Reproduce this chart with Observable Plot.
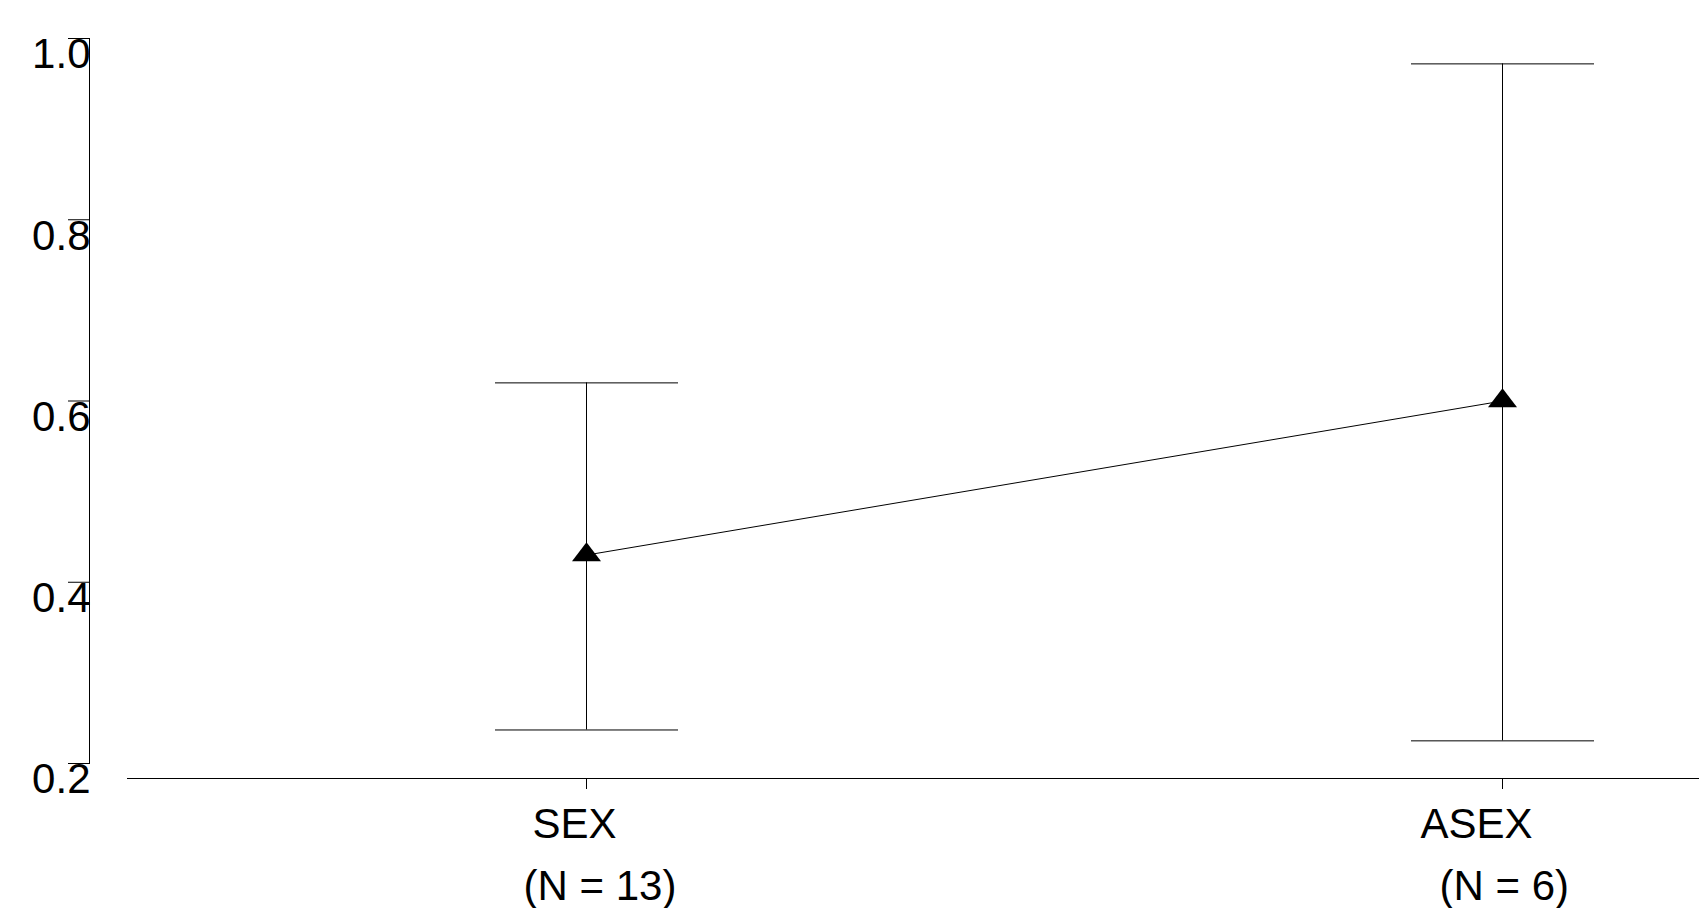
<!DOCTYPE html>
<html>
<head>
<meta charset="utf-8">
<script src="https://cdn.jsdelivr.net/npm/d3@7"></script>
<script src="https://cdn.jsdelivr.net/npm/@observablehq/plot@0.6"></script>
<style>
  html, body { margin: 0; padding: 0; background: #fff; overflow: hidden; }
</style>
</head>
<body>
<div id="chart"></div>
<script>
const groups = ["SEX", "ASEX"];
const counts = [13, 6];
const means = [0.43, 0.60];
const lower = [0.237, 0.225];
const upper = [0.620, 0.972];
const yTicks = [0.2, 0.4, 0.6, 0.8, 1.0];

const data = groups.map((g, i) => ({
  group: g, n: counts[i], mean: means[i], lo: lower[i], hi: upper[i],
  label2: `(N = ${counts[i]})`
}));

const triangle = {
  draw(ctx) {
    ctx.moveTo(0, -12.7);
    ctx.lineTo(14.5, 6.3);
    ctx.lineTo(-14.5, 6.3);
    ctx.closePath();
  }
};
const cap = {
  draw(ctx) {
    ctx.moveTo(-91.5, 0);
    ctx.lineTo(91.5, 0);
  }
};

const font = "'Liberation Sans', Arial, sans-serif";

const chart = Plot.plot({
  width: 1699,
  height: 908,
  marginLeft: 89,
  marginRight: 0,
  marginTop: 38,
  marginBottom: 130,
  style: { background: "#fff", fontFamily: font, color: "#000" },
  x: { type: "point", domain: groups, range: [127, 1960], padding: 0.5, axis: null, label: null },
  y: { domain: [0.2, 1.0], range: [763, 38], axis: null, label: null },
  marks: [
    Plot.frame({ anchor: "left", insetBottom: 15, stroke: "#000", strokeWidth: 1 }),
    Plot.frame({ anchor: "bottom", insetLeft: 38, stroke: "#000", strokeWidth: 1 }),
    Plot.axisY({ ticks: yTicks, tickSize: 21, text: null, stroke: "#000", label: null }),
    Plot.axisY({ ticks: yTicks, tickSize: 0, tickPadding: -1, tickFormat: d3.format(".1f"),
                 lineAnchor: "top", fontSize: 42, fill: "#000", fontFamily: font, label: null }),
    Plot.axisX({ tickSize: 11, text: null, stroke: "#000", label: null }),
    Plot.text(data, { x: "group", text: "group", frameAnchor: "bottom", lineAnchor: "top",
                      textAnchor: "end", dy: 30, dx: 30, fontSize: 42, fill: "#000", fontFamily: font }),
    Plot.text(data, { x: "group", text: "label2", frameAnchor: "bottom", lineAnchor: "top",
                      textAnchor: "start", dy: 92, dx: -63, fontSize: 42, fill: "#000", fontFamily: font }),
    Plot.ruleX(data, { x: "group", y1: "lo", y2: "hi", stroke: "#000", strokeWidth: 1 }),
    Plot.dot(data, { x: "group", y: "hi", symbol: cap, stroke: "#000", fill: "none", strokeWidth: 1 }),
    Plot.dot(data, { x: "group", y: "lo", symbol: cap, stroke: "#000", fill: "none", strokeWidth: 1 }),
    Plot.line(data, { x: "group", y: "mean", stroke: "#000", strokeWidth: 1 }),
    Plot.dot(data, { x: "group", y: "mean", symbol: triangle, fill: "#000", stroke: "none" })
  ]
});

document.getElementById("chart").appendChild(chart);
</script>
</body>
</html>
